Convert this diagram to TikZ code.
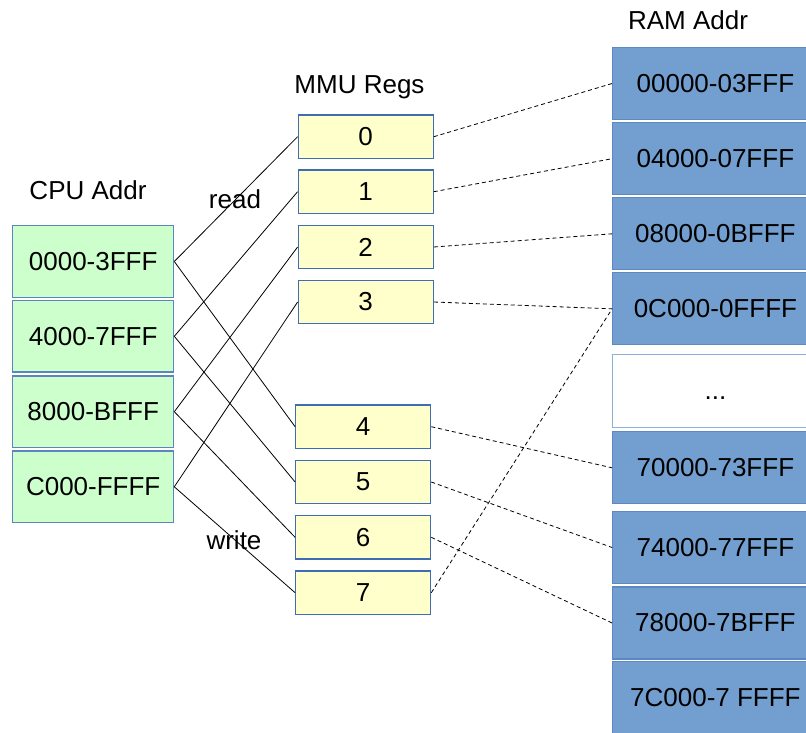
\documentclass[tikz,border=0pt]{standalone}
\usepackage{fontspec}
\setmainfont{Liberation Sans}
\begin{document}
\begin{tikzpicture}[x=1pt,y=-1pt,
  every node/.style={font=\fontsize{26}{30}\selectfont, inner sep=0pt},
  cpubox/.style={draw=cpuedge, line width=1.2pt, fill=cpufill, minimum width=161pt, minimum height=71.5pt},
  regbox/.style={draw=regedge, line width=1.2pt, fill=regfill, minimum width=135pt, minimum height=43.3pt},
  rambox/.style={draw=ramedge, line width=1.2pt, fill=ramfill, minimum width=205.4pt, minimum height=72pt},
  gapbox/.style={draw=gapedge, line width=1.2pt, fill=white, minimum width=205.4pt, minimum height=73pt},
  wire/.style={black, line width=0.8pt},
  link/.style={black, line width=0.8pt, dash pattern=on 4pt off 3pt}
]
\definecolor{cpufill}{HTML}{CCFFCC}
\definecolor{cpuedge}{HTML}{5B84C0}
\definecolor{regfill}{HTML}{FFFFCC}
\definecolor{regedge}{HTML}{3F6DB3}
\definecolor{ramfill}{HTML}{729FCF}
\definecolor{ramedge}{HTML}{5D88C2}
\definecolor{gapedge}{HTML}{8FAFDA}

\useasboundingbox (0,0) rectangle (806,732);
\clip (0,0) rectangle (806,732);

% column headings
\node (hcpu) at (88,190) {CPU Addr};
\node (hmmu) at (359.5,87) {MMU Regs};
\node (hram) at (688,20) {RAM Addr};

% CPU address ranges
\node[cpubox] (c0) at (93.2,261.5) {0000-3FFF};
\node[cpubox] (c1) at (93.2,336.3) {4000-7FFF};
\node[cpubox] (c2) at (93.2,411.7) {8000-BFFF};
\node[cpubox] (c3) at (93.2,486.8) {C000-FFFF};

% MMU registers
\node[regbox] (r0) at (365.7,136.7) {0};
\node[regbox] (r1) at (365.7,191.7) {1};
\node[regbox] (r2) at (365.7,247) {2};
\node[regbox] (r3) at (365.7,302) {3};
\node[regbox] (r4) at (363.2,426.7) {4};
\node[regbox] (r5) at (363.2,482) {5};
\node[regbox] (r6) at (363.2,537.3) {6};
\node[regbox] (r7) at (363.2,592.7) {7};

% RAM pages
\node[rambox] (m0) at (715.4,83.5) {00000-03FFF};
\node[rambox] (m1) at (715.4,158.7) {04000-07FFF};
\node[rambox] (m2) at (715.4,233.8) {08000-0BFFF};
\node[rambox] (m3) at (715.4,308.8) {0C000-0FFFF};
\node[gapbox] (md) at (715.4,390.7) {\vphantom{0}...};
\node[rambox] (m4) at (715.4,467.8) {70000-73FFF};
\node[rambox] (m5) at (715.4,547.5) {74000-77FFF};
\node[rambox] (m6) at (715.4,623) {78000-7BFFF};
\node[rambox] (m7) at (715.4,697.7) {7C000-7 FFFF};

% read / write selection
\draw[wire] (c0.east) -- (r0.west);
\draw[wire] (c1.east) -- (r1.west);
\draw[wire] (c2.east) -- (r2.west);
\draw[wire] (c3.east) -- (r3.west);
\draw[wire] (c0.east) -- (r4.west);
\draw[wire] (c1.east) -- (r5.west);
\draw[wire] (c2.east) -- (r6.west);
\draw[wire] (c3.east) -- (r7.west);

\node (lread) at (235,199) {read};
\node (lwrite) at (234,540) {write};

% register to RAM page mapping
\draw[link] (r0.east) -- (m0.west);
\draw[link] (r1.east) -- (m1.west);
\draw[link] (r2.east) -- (m2.west);
\draw[link] (r3.east) -- (m3.west);
\draw[link] (r4.east) -- (m4.west);
\draw[link] (r5.east) -- (m5.west);
\draw[link] (r6.east) -- (m6.west);
\draw[link] (r7.east) -- (m3.west);
\end{tikzpicture}
\end{document}
